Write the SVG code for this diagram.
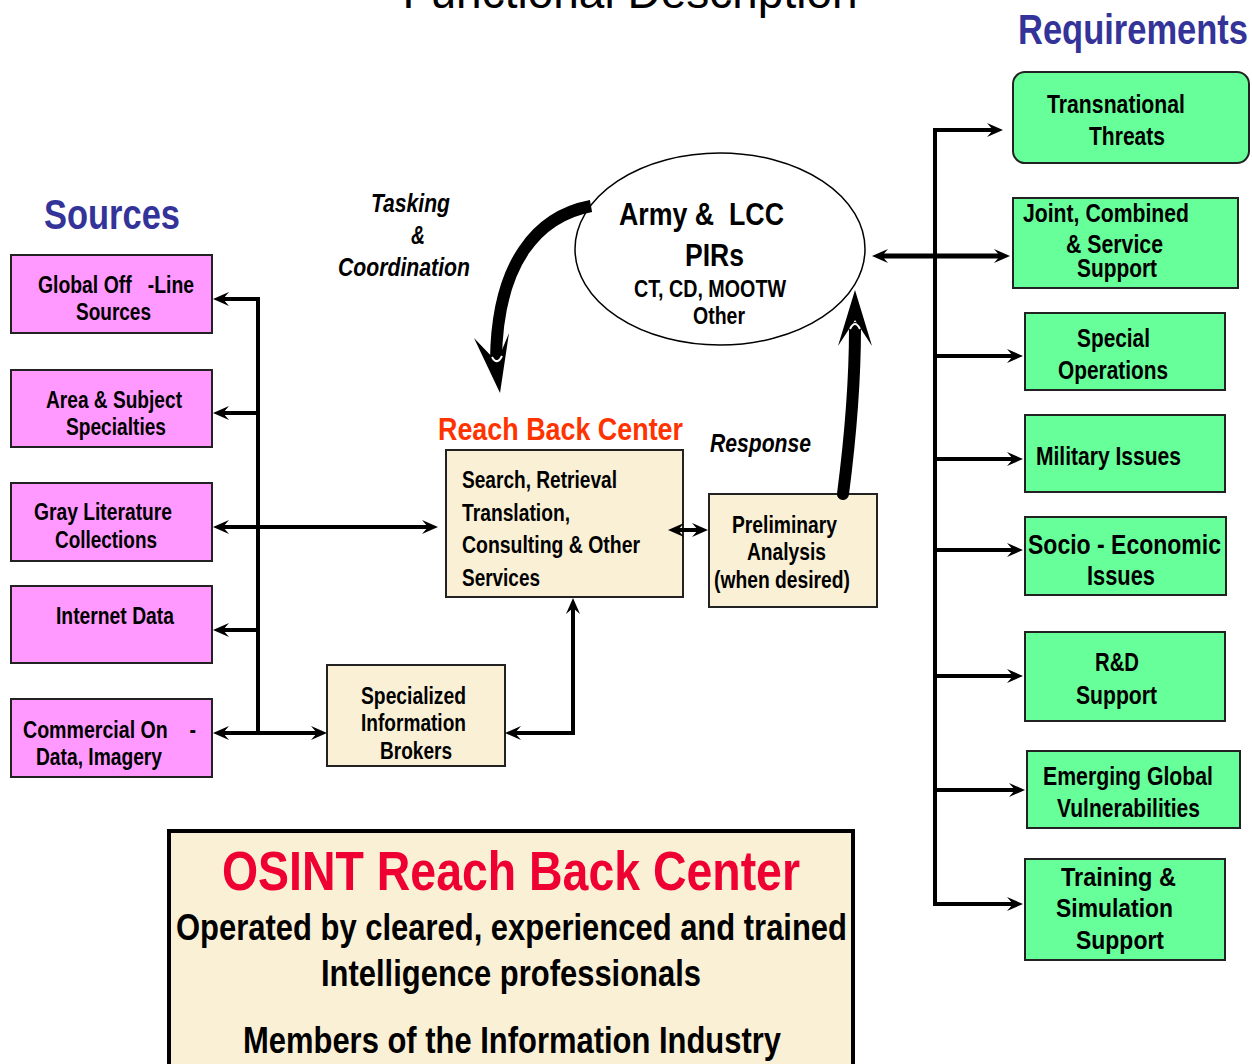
<svg xmlns="http://www.w3.org/2000/svg" width="1252" height="1064" viewBox="0 0 1252 1064">
<style>
.t{font-family:"Liberation Sans",Arial,sans-serif;font-weight:bold;fill:#000}
.i{font-style:italic}
.pink{fill:#FF99FF;stroke:#222;stroke-width:2}
.green{fill:#66FF99;stroke:#222;stroke-width:2}
.beige{fill:#FAF0D6;stroke:#222;stroke-width:2}
.ln{fill:none;stroke:#000;stroke-width:4;stroke-linejoin:miter}
.hd{fill:#333399;font-size:42px}
</style>
<defs>
<marker id="ah" viewBox="-18 -9 20 18" refX="-8" refY="0" markerWidth="20" markerHeight="18" markerUnits="userSpaceOnUse" orient="auto-start-reverse">
<path d="M0,0 L-16,-7 L-10,0 L-16,7 Z" fill="#000"/>
</marker>
</defs>
<rect width="1252" height="1064" fill="#fff"/>
<text x="630" y="8" font-family="Liberation Sans, sans-serif" font-size="46" text-anchor="middle">Functional Description</text>
<text class="t hd" x="44" y="229" textLength="136" lengthAdjust="spacingAndGlyphs">Sources</text>
<text class="t hd" x="1018" y="44" textLength="230" lengthAdjust="spacingAndGlyphs">Requirements</text>

<g id="ellipse-pirs">
<ellipse cx="720" cy="249" rx="145" ry="96" fill="#fff" stroke="#000" stroke-width="1.5"/>
<text class="t" x="619" y="225" font-size="32" textLength="165" lengthAdjust="spacingAndGlyphs" xml:space="preserve">Army &amp;  LCC</text>
<text class="t" x="685" y="266" font-size="32" textLength="59" lengthAdjust="spacingAndGlyphs">PIRs</text>
<text class="t" x="634" y="297" font-size="23" textLength="152" lengthAdjust="spacingAndGlyphs">CT, CD, MOOTW</text>
<text class="t" x="693" y="324" font-size="23" textLength="52" lengthAdjust="spacingAndGlyphs">Other</text>
</g>

<g id="tasking-label">
<text class="t i" x="371" y="212" font-size="25" textLength="79" lengthAdjust="spacingAndGlyphs">Tasking</text>
<text class="t i" x="411" y="244" font-size="25" textLength="14" lengthAdjust="spacingAndGlyphs">&amp;</text>
<text class="t i" x="338" y="276" font-size="25" textLength="132" lengthAdjust="spacingAndGlyphs">Coordination</text>
</g>
<text class="t i" x="710" y="452" font-size="25" textLength="101" lengthAdjust="spacingAndGlyphs">Response</text>

<g id="src-global">
<rect class="pink" x="11" y="255" width="201" height="78"/>
<text class="t" x="38" y="293" font-size="23" textLength="156" lengthAdjust="spacingAndGlyphs" xml:space="preserve">Global Off   -Line</text>
<text class="t" x="76" y="320" font-size="23" textLength="75" lengthAdjust="spacingAndGlyphs">Sources</text>
</g>
<g id="src-area">
<rect class="pink" x="11" y="370" width="201" height="77"/>
<text class="t" x="46" y="408" font-size="23" textLength="136" lengthAdjust="spacingAndGlyphs">Area &amp; Subject</text>
<text class="t" x="66" y="435" font-size="23" textLength="100" lengthAdjust="spacingAndGlyphs">Specialties</text>
</g>
<g id="src-gray">
<rect class="pink" x="11" y="483" width="201" height="78"/>
<text class="t" x="34" y="520" font-size="23" textLength="138" lengthAdjust="spacingAndGlyphs">Gray Literature</text>
<text class="t" x="55" y="548" font-size="23" textLength="102" lengthAdjust="spacingAndGlyphs">Collections</text>
</g>
<g id="src-internet">
<rect class="pink" x="11" y="586" width="201" height="77"/>
<text class="t" x="56" y="624" font-size="23" textLength="118" lengthAdjust="spacingAndGlyphs">Internet Data</text>
</g>
<g id="src-commercial">
<rect class="pink" x="11" y="699" width="201" height="78"/>
<text class="t" x="23" y="738" font-size="23" textLength="173" lengthAdjust="spacingAndGlyphs" xml:space="preserve">Commercial On    -</text>
<text class="t" x="36" y="765" font-size="23" textLength="126" lengthAdjust="spacingAndGlyphs">Data, Imagery</text>
</g>

<g id="reach-back">
<text class="t" x="438" y="440" font-size="32" style="fill:#FF3300" textLength="245" lengthAdjust="spacingAndGlyphs">Reach Back Center</text>
<rect class="beige" x="446" y="450" width="237" height="147"/>
<text class="t" x="462" y="488" font-size="23" textLength="155" lengthAdjust="spacingAndGlyphs">Search, Retrieval</text>
<text class="t" x="462" y="521" font-size="23" textLength="108" lengthAdjust="spacingAndGlyphs">Translation,</text>
<text class="t" x="462" y="553" font-size="23" textLength="178" lengthAdjust="spacingAndGlyphs">Consulting &amp; Other</text>
<text class="t" x="462" y="586" font-size="23" textLength="78" lengthAdjust="spacingAndGlyphs">Services</text>
</g>
<g id="preliminary">
<rect class="beige" x="709" y="494" width="168" height="113"/>
<text class="t" x="732" y="533" font-size="23" textLength="105" lengthAdjust="spacingAndGlyphs">Preliminary</text>
<text class="t" x="747" y="560" font-size="23" textLength="79" lengthAdjust="spacingAndGlyphs">Analysis</text>
<text class="t" x="714" y="588" font-size="23" textLength="136" lengthAdjust="spacingAndGlyphs">(when desired)</text>
</g>
<g id="brokers">
<rect class="beige" x="327" y="665" width="178" height="101"/>
<text class="t" x="361" y="704" font-size="23" textLength="105" lengthAdjust="spacingAndGlyphs">Specialized</text>
<text class="t" x="361" y="731" font-size="23" textLength="105" lengthAdjust="spacingAndGlyphs">Information</text>
<text class="t" x="380" y="759" font-size="23" textLength="72" lengthAdjust="spacingAndGlyphs">Brokers</text>
</g>

<g id="req-transnational">
<rect class="green" x="1013" y="72" width="236" height="91" rx="12"/>
<text class="t" x="1047" y="113" font-size="26" textLength="138" lengthAdjust="spacingAndGlyphs">Transnational</text>
<text class="t" x="1089" y="145" font-size="26" textLength="76" lengthAdjust="spacingAndGlyphs">Threats</text>
</g>
<g id="req-joint">
<rect class="green" x="1013" y="198" width="225" height="90"/>
<text class="t" x="1023" y="222" font-size="26" textLength="166" lengthAdjust="spacingAndGlyphs">Joint, Combined</text>
<text class="t" x="1066" y="253" font-size="26" textLength="97" lengthAdjust="spacingAndGlyphs">&amp; Service</text>
<text class="t" x="1077" y="277" font-size="26" textLength="80" lengthAdjust="spacingAndGlyphs">Support</text>
</g>
<g id="req-special">
<rect class="green" x="1025" y="313" width="200" height="77"/>
<text class="t" x="1077" y="347" font-size="26" textLength="73" lengthAdjust="spacingAndGlyphs">Special</text>
<text class="t" x="1058" y="379" font-size="26" textLength="110" lengthAdjust="spacingAndGlyphs">Operations</text>
</g>
<g id="req-military">
<rect class="green" x="1025" y="415" width="200" height="77"/>
<text class="t" x="1036" y="465" font-size="26" textLength="145" lengthAdjust="spacingAndGlyphs">Military Issues</text>
</g>
<g id="req-socio">
<rect class="green" x="1025" y="517" width="201" height="78"/>
<text class="t" x="1028" y="554" font-size="27" textLength="193" lengthAdjust="spacingAndGlyphs">Socio - Economic</text>
<text class="t" x="1087" y="585" font-size="27" textLength="68" lengthAdjust="spacingAndGlyphs">Issues</text>
</g>
<g id="req-rd">
<rect class="green" x="1025" y="632" width="200" height="89"/>
<text class="t" x="1095" y="671" font-size="26" textLength="44" lengthAdjust="spacingAndGlyphs">R&amp;D</text>
<text class="t" x="1076" y="704" font-size="26" textLength="81" lengthAdjust="spacingAndGlyphs">Support</text>
</g>
<g id="req-emerging">
<rect class="green" x="1027" y="751" width="213" height="77"/>
<text class="t" x="1043" y="785" font-size="26" textLength="170" lengthAdjust="spacingAndGlyphs">Emerging Global</text>
<text class="t" x="1057" y="817" font-size="26" textLength="143" lengthAdjust="spacingAndGlyphs">Vulnerabilities</text>
</g>
<g id="req-training">
<rect class="green" x="1025" y="859" width="200" height="101"/>
<text class="t" x="1061" y="886" font-size="26" textLength="115" lengthAdjust="spacingAndGlyphs">Training &amp;</text>
<text class="t" x="1056" y="917" font-size="26" textLength="117" lengthAdjust="spacingAndGlyphs">Simulation</text>
<text class="t" x="1076" y="949" font-size="26" textLength="88" lengthAdjust="spacingAndGlyphs">Support</text>
</g>

<g id="osint-box">
<rect x="169" y="831" width="684" height="260" fill="#FAF0D6" stroke="#000" stroke-width="4"/>
<text class="t" x="222" y="890" font-size="56" style="fill:#EE0033" textLength="578" lengthAdjust="spacingAndGlyphs">OSINT Reach Back Center</text>
<text class="t" x="176" y="940" font-size="37" textLength="671" lengthAdjust="spacingAndGlyphs">Operated by cleared, experienced and trained</text>
<text class="t" x="321" y="986" font-size="37" textLength="380" lengthAdjust="spacingAndGlyphs">Intelligence professionals</text>
<text class="t" x="243" y="1053" font-size="37" textLength="538" lengthAdjust="spacingAndGlyphs">Members of the Information Industry</text>
</g>

<g id="connectors">
<path class="ln" d="M221,299 H258 V733" marker-start="url(#ah)"/>
<path class="ln" d="M258,413 H221" marker-end="url(#ah)"/>
<path class="ln" d="M221,527 H430" marker-start="url(#ah)" marker-end="url(#ah)"/>
<path class="ln" d="M258,630 H221" marker-end="url(#ah)"/>
<path class="ln" d="M221,733 H319" marker-start="url(#ah)" marker-end="url(#ah)"/>
<path class="ln" d="M513,733 H573 V606" marker-start="url(#ah)" marker-end="url(#ah)"/>
<path class="ln" d="M676,530 H700" marker-start="url(#ah)" marker-end="url(#ah)"/>
<path class="ln" d="M995,130 H935 V904 H1015" marker-start="url(#ah)" marker-end="url(#ah)"/>
<path class="ln" d="M880,256 H1002" style="stroke-width:5" marker-start="url(#ah)" marker-end="url(#ah)"/>
<path class="ln" d="M935,356 H1015" marker-end="url(#ah)"/>
<path class="ln" d="M935,459 H1015" marker-end="url(#ah)"/>
<path class="ln" d="M935,550 H1015" marker-end="url(#ah)"/>
<path class="ln" d="M935,676 H1015" marker-end="url(#ah)"/>
<path class="ln" d="M935,790 H1017" marker-end="url(#ah)"/>
<path d="M591,206 C538,216 497,262 496,360" fill="none" stroke="#000" stroke-width="12"/>
<path d="M500,393 L474,338 L497,362 L509,333 Z" fill="#000"/>
<path d="M492,357 Q497,366 502,356" fill="none" stroke="#fff" stroke-width="2"/>
<path d="M843,494 C850,440 855,380 855,328" fill="none" stroke="#000" stroke-width="12" stroke-linecap="round"/>
<path d="M855,290 L838,346 L855,320 L872,346 Z" fill="#000"/>
<path d="M850,329 Q855,319 860,329" fill="none" stroke="#fff" stroke-width="2"/>
</g>
</svg>
